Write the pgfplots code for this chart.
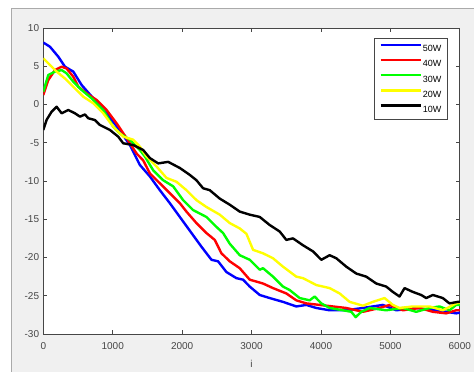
\documentclass[border=0pt]{standalone}
\usepackage{pgfplots}
\pgfplotsset{compat=1.18}
\usepackage{fontspec}
\setmainfont{Liberation Sans}
\definecolor{figbg}{RGB}{240,240,240}
\definecolor{axcol}{RGB}{70,70,70}
\definecolor{frm}{RGB}{170,170,170}
\begin{document}
\begin{tikzpicture}[x=1pt,y=1pt]
\useasboundingbox (0,0) rectangle (474,372);
\fill[white] (0,0) rectangle (474,372);
\fill[figbg] (11,0) rectangle (474,364);
\draw[frm, line width=0.8pt] (11,0) -- (11,364) -- (474,364);
\begin{axis}[
  at={(43.3pt,38pt)}, anchor=south west,
  scale only axis, width=416.5pt, height=306pt,
  xmin=0, xmax=6000, ymin=-30, ymax=10,
  xtick={0,1000,...,6000}, ytick={-30,-25,...,10},
  tick align=inside, major tick length=4pt,
  axis background/.style={fill=white},
  axis line style={axcol, line width=0.6pt},
  tick style={axcol, line width=0.6pt},
  ticklabel style={font=\fontsize{10}{12}\selectfont, text=axcol, inner sep=0pt},
  /pgf/number format/assume math mode=true,
  scaled x ticks=false,
  xticklabel style={/pgf/number format/1000 sep={}, anchor=center, yshift=-12.5pt},
  yticklabel style={anchor=east, xshift=-4pt},
  xlabel={i},
  xlabel style={at={(axis description cs:0.5,0)}, anchor=center, yshift=-30pt, font=\fontsize{10}{12}\selectfont, text=axcol},
  legend style={at={(0.971,0.968)}, anchor=north east, draw=axcol, line width=0.6pt, fill=white,
    inner xsep=5pt, inner ysep=5.5pt, row sep=6pt, column sep=0pt,
    font=\fontsize{9}{9}\selectfont,
    nodes={inner sep=1pt, text height=7pt, text depth=0pt}},
  legend cell align=left,
  legend image code/.code={\draw[#1] (0pt,3.5pt) -- (40pt,3.5pt);},
  every axis plot/.append style={line width=2.4pt, line join=round},
]
\addplot[color={rgb,255:red,0;green,0;blue,255}] coordinates {
(0,8.1)(96,7.55)(216,6.25)(312,4.94)(432,4.3)(552,2.55)(720,0.81)(912,-1.15)(1079,-3.1)(1247,-5.3)(1391,-7.9)(1535,-9.4)(1679,-11.2)(1823,-12.9)(1967,-14.7)(2135,-16.8)(2279,-18.6)(2423,-20.3)(2518,-20.5)(2638,-21.9)(2782,-22.7)(2878,-22.9)(2974,-23.8)(3118,-24.9)(3261,-25.3)(3453,-25.8)(3645,-26.4)(3789,-26.2)(3933,-26.6)(4125,-26.9)(4365,-26.9)(4600,-26.6)(4892,-26.2)(5085,-26.9)(5372,-26.6)(5660,-26.9)(5948,-27.3)(6000,-27.2)
};
\addlegendentry{50W}
\addplot[color={rgb,255:red,255;green,0;blue,0}] coordinates {
(0,1.24)(72,3.2)(168,4.5)(264,4.94)(336,4.7)(432,3.63)(504,2.33)(624,1.46)(768,0.59)(912,-0.72)(1056,-2.46)(1200,-4.4)(1343,-6.4)(1439,-7.3)(1535,-9.0)(1679,-10.3)(1823,-11.6)(1967,-12.9)(2062,-14.0)(2206,-15.5)(2350,-16.8)(2470,-17.7)(2566,-19.45)(2686,-20.5)(2830,-21.4)(2974,-22.9)(3165,-23.4)(3309,-24.0)(3501,-24.7)(3645,-25.6)(3789,-26.0)(3981,-26.2)(4173,-26.4)(4365,-26.6)(4604,-27.1)(4844,-26.6)(4988,-26.2)(5180,-26.9)(5420,-26.6)(5612,-27.1)(5803,-27.3)(5948,-26.9)(6000,-26.9)
};
\addlegendentry{40W}
\addplot[color={rgb,255:red,0;green,255;blue,0}] coordinates {
(0,1.67)(72,3.86)(168,4.3)(264,4.5)(336,4.07)(432,2.98)(552,1.9)(696,0.81)(864,-0.72)(1007,-2.9)(1103,-3.8)(1247,-4.6)(1391,-5.95)(1463,-6.8)(1583,-8.6)(1727,-9.9)(1871,-10.7)(2014,-12.5)(2158,-13.8)(2350,-14.7)(2494,-16.0)(2590,-16.8)(2686,-18.2)(2830,-19.7)(2974,-20.3)(3118,-21.6)(3165,-21.4)(3309,-22.5)(3453,-23.8)(3549,-24.25)(3693,-25.3)(3837,-25.6)(3909,-25.1)(4005,-26.0)(4125,-26.6)(4317,-26.9)(4437,-27.1)(4500,-27.8)(4581,-27.1)(4700,-26.6)(4940,-26.9)(5180,-26.6)(5372,-27.1)(5564,-26.6)(5708,-26.4)(5851,-26.9)(5948,-26.2)(6000,-26.2)
};
\addlegendentry{30W}
\addplot[color={rgb,255:red,255;green,255;blue,0}] coordinates {
(0,6.04)(96,5.16)(192,4.3)(312,3.4)(456,2.1)(576,1.02)(720,0.16)(864,-1.15)(1007,-2.9)(1151,-4.2)(1295,-4.6)(1391,-5.5)(1487,-6.8)(1631,-8.1)(1775,-9.6)(1919,-10.1)(2062,-11.2)(2206,-12.5)(2350,-13.4)(2542,-14.4)(2686,-15.5)(2830,-16.2)(2926,-16.9)(3022,-19.0)(3165,-19.45)(3309,-20.1)(3453,-21.2)(3645,-22.5)(3741,-22.7)(3933,-23.6)(4125,-24.0)(4269,-24.7)(4413,-25.8)(4604,-26.3)(4748,-25.8)(4916,-25.3)(5036,-26.2)(5132,-26.6)(5324,-26.4)(5564,-26.4)(5755,-26.9)(5948,-26.0)(6000,-25.9)
};
\addlegendentry{20W}
\addplot[color=black] coordinates {
(0,-3.33)(48,-2.0)(120,-0.94)(192,-0.29)(264,-1.15)(360,-0.72)(456,-1.15)(528,-1.59)(600,-1.3)(648,-1.8)(744,-2.03)(816,-2.68)(960,-3.33)(1079,-4.2)(1151,-5.07)(1295,-5.3)(1439,-5.95)(1535,-7.0)(1655,-7.7)(1799,-7.5)(1967,-8.3)(2110,-9.2)(2206,-9.9)(2302,-10.95)(2398,-11.2)(2542,-12.3)(2686,-13.1)(2830,-14.0)(2974,-14.4)(3118,-14.7)(3261,-15.75)(3405,-16.6)(3501,-17.7)(3597,-17.5)(3741,-18.4)(3885,-19.2)(4005,-20.3)(4125,-19.7)(4221,-20.1)(4365,-21.2)(4509,-22.1)(4652,-22.5)(4796,-23.4)(4940,-23.8)(5036,-24.5)(5132,-25.1)(5204,-24.0)(5324,-24.5)(5444,-24.9)(5516,-25.3)(5612,-24.9)(5755,-25.3)(5851,-26.0)(5972,-25.8)(6000,-25.8)
};
\addlegendentry{10W}
\end{axis}
\end{tikzpicture}
\end{document}
